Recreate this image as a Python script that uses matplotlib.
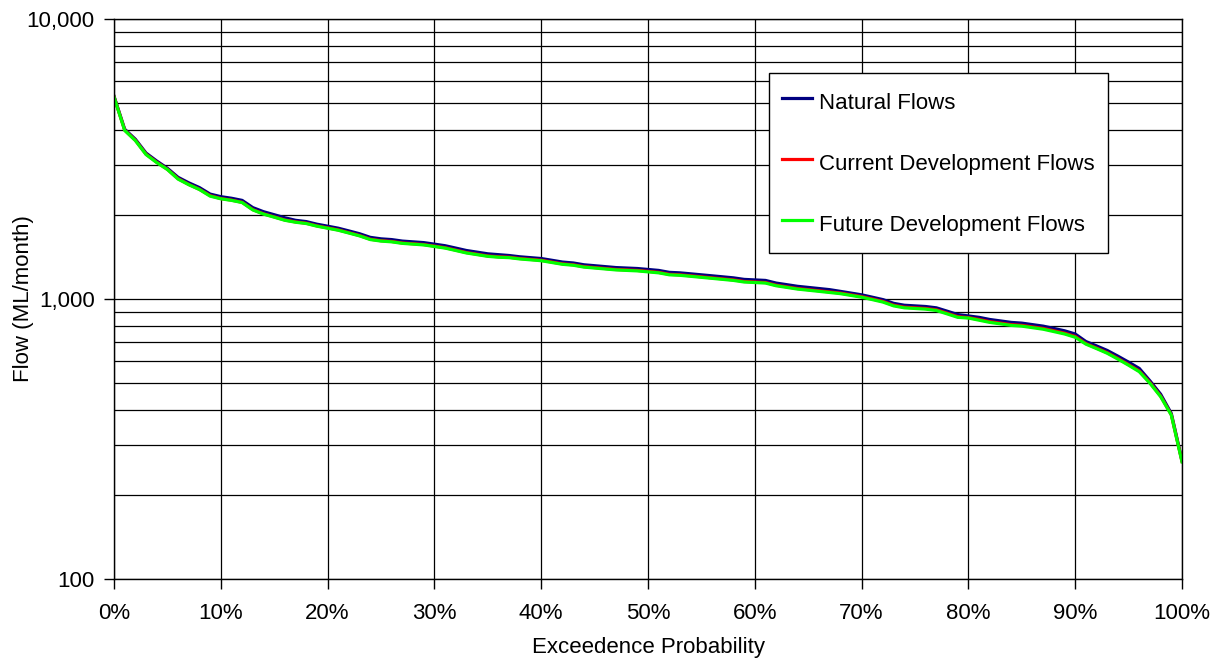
import numpy as np
import matplotlib.pyplot as plt
from matplotlib.ticker import FuncFormatter, LogLocator, NullFormatter

plt.rcParams['font.family'] = ['Liberation Sans', 'DejaVu Sans']

# exceedence probability (%) and monthly flows (ML/month)
prob = list(range(0, 101))

natural = [5300, 4040, 3720, 3320, 3110, 2930, 2720, 2600, 2500, 2370,
           2320, 2290, 2250, 2120, 2050, 2000, 1950, 1910, 1890, 1850,
           1820, 1790, 1750, 1710, 1660, 1640, 1630, 1610, 1600, 1590,
           1570, 1550, 1520, 1490, 1470, 1450, 1440, 1430, 1415, 1405,
           1395, 1375, 1355, 1345, 1325, 1315, 1305, 1295, 1290, 1285,
           1275, 1265, 1245, 1240, 1230, 1220, 1210, 1200, 1190, 1175,
           1170, 1165, 1140, 1125, 1110, 1100, 1090, 1080, 1065, 1050,
           1035, 1015, 995, 965, 950, 945, 940, 930, 905, 880,
           870, 860, 845, 835, 825, 820, 810, 800, 785, 770,
           750, 705, 680, 655, 625, 595, 565, 510, 457, 390,
           265]

current = [5280, 4010, 3690, 3290, 3080, 2905, 2690, 2565, 2465, 2340,
           2285, 2255, 2215, 2085, 2015, 1965, 1915, 1885, 1865, 1825,
           1795, 1765, 1725, 1685, 1635, 1615, 1605, 1585, 1575, 1565,
           1545, 1525, 1495, 1465, 1445, 1425, 1415, 1410, 1395, 1385,
           1375, 1355, 1335, 1325, 1305, 1295, 1285, 1275, 1270, 1265,
           1255, 1245, 1225, 1220, 1210, 1200, 1190, 1180, 1170, 1155,
           1150, 1145, 1120, 1105, 1090, 1080, 1070, 1060, 1050, 1035,
           1020, 1000, 980, 950, 935, 930, 925, 915, 890, 865,
           858, 845, 830, 820, 810, 805, 795, 785, 770, 755,
           735, 693, 668, 643, 613, 583, 553, 503, 450, 386,
           263]

future = [5270, 4000, 3680, 3280, 3070, 2900, 2680, 2560, 2460, 2330,
          2280, 2250, 2210, 2080, 2010, 1960, 1910, 1880, 1860, 1820,
          1790, 1760, 1720, 1680, 1630, 1610, 1600, 1580, 1570, 1560,
          1540, 1520, 1490, 1460, 1440, 1420, 1410, 1405, 1390, 1380,
          1370, 1350, 1330, 1320, 1300, 1290, 1280, 1270, 1265, 1260,
          1250, 1240, 1220, 1215, 1205, 1195, 1185, 1175, 1165, 1150,
          1145, 1140, 1115, 1100, 1085, 1075, 1065, 1055, 1045, 1030,
          1015, 995, 975, 945, 930, 925, 920, 910, 885, 860,
          855, 840, 825, 815, 805, 800, 790, 780, 765, 750,
          730, 690, 665, 640, 610, 580, 550, 500, 448, 385,
          262]

fig = plt.figure(figsize=(12.23, 6.59), dpi=100)
ax = fig.add_axes([114 / 1223, 1 - 579 / 659, 1068 / 1223, 560 / 659])

ax.plot(prob, natural, color='#000080', lw=2.3, label='Natural Flows')
ax.plot(prob, current, color='#ff0000', lw=2.3, label='Current Development Flows')
ax.plot(prob, future, color='#00ff00', lw=2.3, label='Future Development Flows')

ax.set_yscale('log')
ax.set_ylim(100, 10000)
ax.set_xlim(0, 100)

ax.set_xticks(np.arange(0, 101, 10))
ax.xaxis.set_major_formatter(FuncFormatter(lambda v, p: f'{v:.0f}%'))
ax.yaxis.set_major_locator(LogLocator(base=10))
ax.yaxis.set_minor_locator(LogLocator(base=10, subs=np.arange(2, 10)))
ax.yaxis.set_major_formatter(FuncFormatter(lambda v, p: f'{v:,.0f}'))
ax.yaxis.set_minor_formatter(NullFormatter())

ax.grid(True, which='major', color='black', lw=0.9)
ax.grid(True, which='minor', axis='y', color='black', lw=0.9)
ax.tick_params(axis='both', which='major', direction='out', length=7,
               width=1, labelsize=16, color='black')
ax.tick_params(axis='x', which='major', pad=10)
ax.tick_params(axis='y', which='major', pad=7)
ax.tick_params(axis='y', which='minor', length=0)
for s in ax.spines.values():
    s.set_color('black')
    s.set_linewidth(1)

ax.set_xlabel('Exceedence Probability', fontsize=16, labelpad=10)
ax.set_ylabel('Flow (ML/month)', fontsize=16)
ax.yaxis.set_label_coords(-0.075, 0.5)

leg = ax.legend(loc='upper left', bbox_to_anchor=(769 / 1223, 1 - 73 / 659),
                bbox_transform=fig.transFigure, borderaxespad=0,
                fontsize=16, frameon=True, fancybox=False, framealpha=1,
                edgecolor='black', handlelength=1.35, handletextpad=0.3,
                handleheight=1.8, labelspacing=1.33, borderpad=0.6)
leg.get_frame().set_linewidth(1)
for h in leg.get_lines():
    h.set_linewidth(2.3)

fig.savefig('out.png', dpi=100)
